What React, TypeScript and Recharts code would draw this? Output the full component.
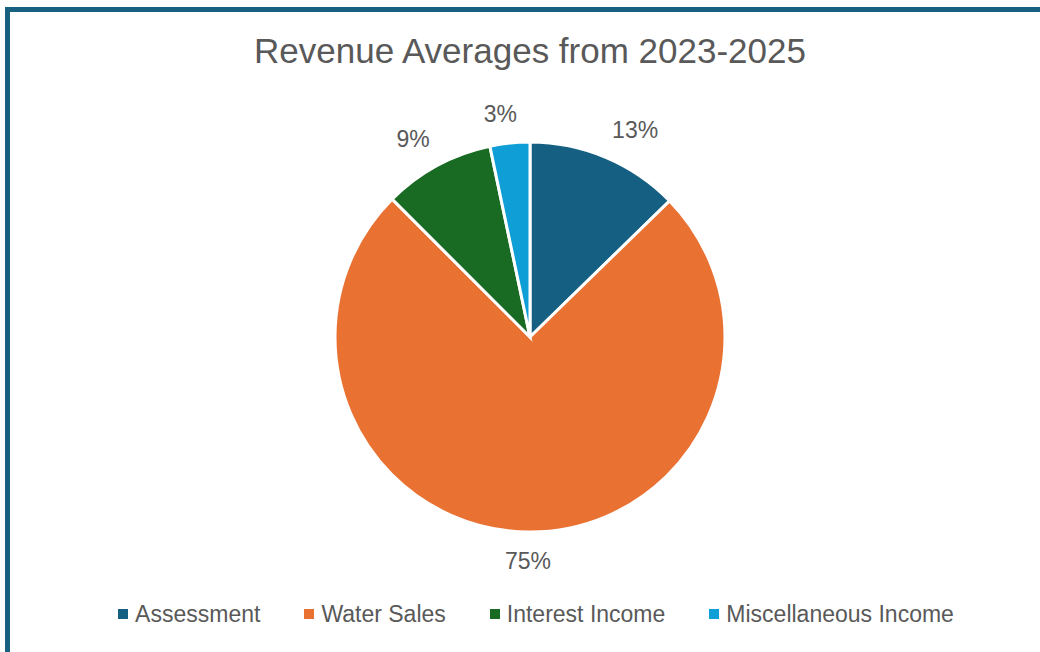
import React from "react";
import { PieChart, Pie, Cell } from "recharts";

const categories = ["Assessment", "Water Sales", "Interest Income", "Miscellaneous Income"];
const shares = [12.7, 74.8, 9.2, 3.3];
const percentLabels = ["13%", "75%", "9%", "3%"];
const colors = ["#156082", "#e97132", "#196b24", "#0f9ed5"];

const data = categories.map((name, i) => ({ name, value: shares[i], label: percentLabels[i] }));

const FONT = "'Liberation Sans', Arial, sans-serif";
const RAD = Math.PI / 180;

const clamp = (v: number) => Math.max(-1, Math.min(1, v));

// Excel-ish best fit: the label box's near corner sits on the mid-angle ray just outside the pie
function renderLabel(props: any) {
  const { cx, cy, midAngle, outerRadius, index } = props;
  const text = percentLabels[index];
  const halfW = text.length * 7.2;
  const halfH = 9;
  const c = Math.cos(-midAngle * RAD);
  const s = Math.sin(-midAngle * RAD);
  const dist = outerRadius + 20;
  const x = cx + dist * c + halfW * clamp(c * 5);
  const y = cy + dist * s + halfH * clamp(s * 5);
  return (
    <text
      x={x}
      y={y}
      textAnchor="middle"
      dominantBaseline="central"
      fill="#595959"
      fontSize={23}
      fontFamily={FONT}
    >
      {text}
    </text>
  );
}

export default function App() {
  return (
    <div style={{ position: "absolute", left: 0, top: 0, width: 1040, height: 652, overflow: "hidden", background: "#fff" }}>
      <div
        style={{
          position: "absolute",
          left: 5,
          top: 7,
          width: 1100,
          height: 700,
          borderLeft: "5px solid #17607f",
          borderTop: "5px solid #17607f",
        }}
      />
      <div
        style={{
          position: "absolute",
          left: 0,
          top: 28,
          width: 1060,
          textAlign: "center",
          fontFamily: FONT,
          fontSize: 35,
          color: "#595959",
          lineHeight: "46px",
        }}
      >
        Revenue Averages from 2023-2025
      </div>
      <div style={{ position: "absolute", left: 0, top: 0 }}>
        <PieChart width={1040} height={652} margin={{ top: 0, right: 0, bottom: 0, left: 0 }}>
          <Pie
            data={data}
            dataKey="value"
            nameKey="name"
            cx={530}
            cy={337}
            outerRadius={195}
            startAngle={90}
            endAngle={-270}
            stroke="#ffffff"
            strokeWidth={3}
            label={renderLabel}
            labelLine={false}
            isAnimationActive={false}
          >
            {data.map((d, i) => (
              <Cell key={d.name} fill={colors[i]} />
            ))}
          </Pie>
        </PieChart>
      </div>
      <div
        style={{
          position: "absolute",
          left: 0,
          top: 600,
          width: 1072,
          display: "flex",
          justifyContent: "center",
          gap: 44,
          fontFamily: FONT,
          fontSize: 23,
          color: "#595959",
          lineHeight: "28px",
        }}
      >
        {categories.map((name, i) => (
          <div key={name} style={{ display: "flex", alignItems: "center" }}>
            <span style={{ width: 10, height: 10, background: colors[i], marginRight: 7, display: "inline-block" }} />
            <span>{name}</span>
          </div>
        ))}
      </div>
    </div>
  );
}
